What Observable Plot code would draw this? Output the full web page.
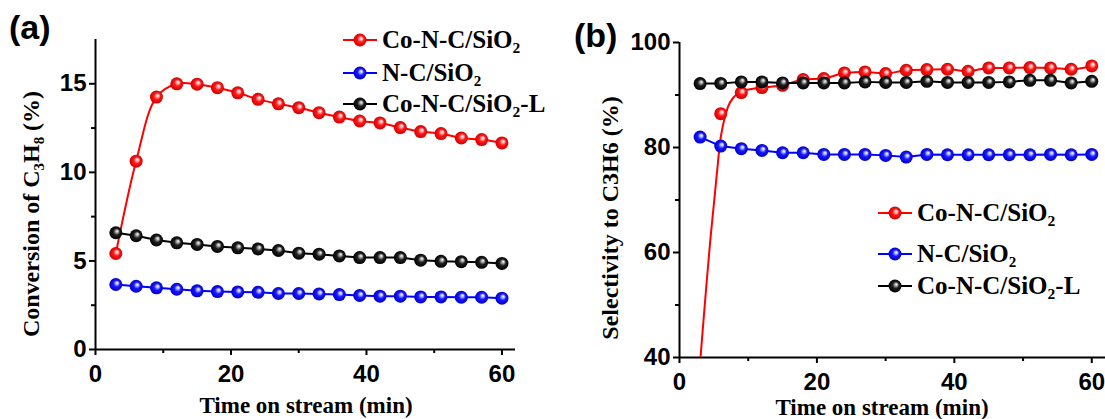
<!DOCTYPE html>
<html><head><meta charset="utf-8">
<script src="https://cdn.jsdelivr.net/npm/d3@7"></script>
<script src="https://cdn.jsdelivr.net/npm/@observablehq/plot@0.6"></script>
<style>
body{margin:0;background:#fff;}
#wrap{position:relative;width:1105px;height:419px;overflow:hidden;background:#fff;font-family:"Liberation Serif","Times New Roman",serif;color:#000;}
.panel{position:absolute;top:0;}
.lbl{position:absolute;font-family:"Liberation Sans",Arial,sans-serif;font-weight:bold;font-size:34px;line-height:1;}
.title{position:absolute;font-weight:bold;font-size:23px;white-space:nowrap;line-height:1;transform:translate(-50%,-50%);}
.ytitle{font-size:24px;transform:translate(-50%,-50%) rotate(-90deg);}
.row{position:absolute;display:flex;align-items:center;white-space:nowrap;font-weight:bold;font-size:25px;height:32px;}
.row svg{margin-right:5px;}
sub{font-size:0.62em;vertical-align:-0.35em;line-height:0;}
</style></head>
<body>
<svg width="0" height="0" style="position:absolute">
<defs>
<radialGradient id="gRed" cx="50%" cy="50%" r="50%" fx="62%" fy="36%">
<stop offset="0%" stop-color="#ffffff"/><stop offset="22%" stop-color="#ffb0b0"/><stop offset="50%" stop-color="#ff1818"/><stop offset="100%" stop-color="#d00000"/>
</radialGradient>
<radialGradient id="gBlue" cx="50%" cy="50%" r="50%" fx="62%" fy="36%">
<stop offset="0%" stop-color="#ffffff"/><stop offset="22%" stop-color="#b0b0ff"/><stop offset="50%" stop-color="#1818ff"/><stop offset="100%" stop-color="#0000c8"/>
</radialGradient>
<radialGradient id="gBlack" cx="50%" cy="50%" r="50%" fx="62%" fy="36%">
<stop offset="0%" stop-color="#ffffff"/><stop offset="22%" stop-color="#a8a8a8"/><stop offset="50%" stop-color="#202020"/><stop offset="100%" stop-color="#000000"/>
</radialGradient>
</defs>
</svg>
<div id="wrap"></div>
<script>
// ---- data ----
const time = [3, 6, 9, 12, 15, 18, 21, 24, 27, 30, 33, 36, 39, 42, 45, 48, 51, 54, 57, 60];
const seriesNames = ["Co-N-C/SiO2", "N-C/SiO2", "Co-N-C/SiO2-L"];

// (a) Conversion of C3H8 (%)
const convCoNC = [5.42, 10.63, 14.25, 15.0, 14.98, 14.78, 14.49, 14.12, 13.87, 13.65, 13.37, 13.12, 12.9, 12.79, 12.53, 12.3, 12.19, 11.94, 11.85, 11.66];
const convNC = [3.67, 3.57, 3.48, 3.40, 3.31, 3.27, 3.25, 3.23, 3.16, 3.16, 3.14, 3.10, 3.05, 3.01, 3.01, 2.97, 2.97, 2.95, 2.95, 2.90];
const convCoNCL = [6.59, 6.42, 6.18, 6.02, 5.93, 5.82, 5.74, 5.68, 5.59, 5.44, 5.38, 5.28, 5.19, 5.19, 5.19, 5.04, 4.98, 4.96, 4.92, 4.86];

// (b) Selectivity to C3H6 (%)  (Co-N-C/SiO2 point at 3 min lies below the axis)
const selTime = [6, 9, 12, 15, 18, 21, 24, 27, 30, 33, 36, 39, 42, 45, 48, 51, 54, 57, 60];
const selCoNC = [86.45, 90.46, 91.41, 91.85, 92.94, 93.13, 94.2, 94.39, 94.08, 94.71, 94.84, 94.9, 94.52, 95.16, 95.16, 95.22, 95.16, 94.9, 95.54];
const selNC = [81.98, 80.27, 79.77, 79.45, 79.0, 79.0, 78.68, 78.68, 78.68, 78.5, 78.17, 78.68, 78.62, 78.62, 78.62, 78.62, 78.62, 78.68, 78.62, 78.68];
const selCoNCL = [92.17, 92.2, 92.5, 92.5, 92.3, 92.3, 92.3, 92.3, 92.5, 92.4, 92.4, 92.6, 92.4, 92.4, 92.4, 92.5, 92.8, 92.8, 92.3, 92.6];
// smoothed line of Co-N-C/SiO2 in (b) for its early part
const selFitTime = [3.06, 4.62, 5.1, 5.58, 5.87, 6.37, 7.04, 7.9, 8.9, 11.9, 15];
const selFitVal = [40, 64.2, 70.5, 76.9, 80.7, 84.5, 87.7, 89.6, 90.6, 91.4, 91.85];

// ticks
const xMajor = [0, 20, 40, 60], xMinor = [10, 30, 50];
const yMajorA = [0, 5, 10, 15], yMinorA = [2.5, 7.5, 12.5];
const yMajorB = [40, 60, 80, 100], yMinorB = [50, 70, 90];

// ---- build ----
const colors = {"Co-N-C/SiO2": "red", "N-C/SiO2": "blue", "Co-N-C/SiO2-L": "black"};
const grads = {"Co-N-C/SiO2": "url(#gRed)", "N-C/SiO2": "url(#gBlue)", "Co-N-C/SiO2-L": "url(#gBlack)"};
const rows = (xs, ys) => xs.map((x, i) => ({x, y: ys[i]}));

const aSets = [[seriesNames[0], rows(time, convCoNC)], [seriesNames[1], rows(time, convNC)], [seriesNames[2], rows(time, convCoNCL)]];
const redFitB = rows(selFitTime, selFitVal).concat(rows(selTime, selCoNC).filter(d => d.x > 15));
const bSets = [[seriesNames[0], rows(selTime, selCoNC), redFitB], [seriesNames[1], rows(time, selNC)], [seriesNames[2], rows(time, selCoNCL)]];

const fontStyle = {fontFamily: '"Liberation Sans", Arial, sans-serif', fontSize: "24px", fontWeight: "bold", color: "#000", background: "transparent", overflow: "visible"};

function axes(yMajor, yMinor, yMin) {
  return [
    Plot.axisX({ticks: xMajor, tickSize: 6, tickPadding: 9, label: null, strokeWidth: 2}),
    Plot.axisX({ticks: xMinor, tickSize: 4, tickFormat: () => "", label: null, strokeWidth: 2}),
    Plot.axisY({ticks: yMajor, tickSize: 6, tickPadding: 3, label: null, strokeWidth: 2}),
    Plot.axisY({ticks: yMinor, tickSize: 4, tickFormat: () => "", label: null, strokeWidth: 2}),
    Plot.ruleX([0], {strokeWidth: 2}),
    Plot.ruleY([yMin], {strokeWidth: 2})
  ];
}

const left = Plot.plot({
  width: 540, height: 419, marginLeft: 95, marginRight: 25, marginTop: 39, marginBottom: 70,
  style: fontStyle,
  x: {domain: [0, 62], label: null},
  y: {domain: [0, 17.5], label: null},
  marks: [
    ...axes(yMajorA, yMinorA, 0),
    ...aSets.flatMap(([name, data]) => [
      Plot.line(data, {x: "x", y: "y", stroke: colors[name], strokeWidth: 2, curve: name === seriesNames[0] ? "catmull-rom" : "linear"}),
      Plot.dot(data, {x: "x", y: "y", r: 6.5, fill: grads[name], stroke: "none"})
    ])
  ]
});

const right = Plot.plot({
  width: 545, height: 419, marginLeft: 119, marginRight: 0, marginTop: 42, marginBottom: 62,
  style: fontStyle,
  x: {domain: [0, 62], label: null},
  y: {domain: [40, 100], label: null},
  marks: [
    ...axes(yMajorB, yMinorB, 40),
    ...bSets.flatMap(([name, data, lineData]) => [
      Plot.line(lineData || data, {x: "x", y: "y", stroke: colors[name], strokeWidth: 2, curve: lineData ? "monotone-x" : "linear", clip: true}),
      Plot.dot(data, {x: "x", y: "y", r: 6.5, fill: grads[name], stroke: "none"})
    ])
  ]
});

const wrap = document.getElementById("wrap");
left.classList.add("panel"); left.style.left = "0px";
right.classList.add("panel"); right.style.left = "560px";
wrap.append(left, right);

function addHTML(html) { wrap.insertAdjacentHTML("beforeend", html); }
addHTML('<div class="lbl" style="left:9px;top:10px">(a)</div>');
addHTML('<div class="lbl" style="left:574px;top:18px">(b)</div>');
addHTML('<div class="title" style="left:306px;top:405px">Time on stream (min)</div>');
addHTML('<div class="title" style="left:882px;top:407px">Time on stream (min)</div>');
addHTML('<div class="title ytitle" style="left:31px;top:214px">Conversion of C<sub>3</sub>H<sub>8</sub> (%)</div>');
addHTML('<div class="title ytitle" style="left:610px;top:218px">Selectivity to C3H6 (%)</div>');

const legendLabels = ["Co-N-C/SiO<sub>2</sub>", "N-C/SiO\u2082", "Co-N-C/SiO<sub>2</sub>-L"];
function legend(x, ys) {
  seriesNames.forEach((name, i) => {
    const sw = `<svg width="34" height="20"><line x1="0" x2="34" y1="10" y2="10" stroke="${colors[name]}" stroke-width="2"/><circle cx="17" cy="10" r="6.5" fill="${grads[name]}"/></svg>`;
    addHTML(`<div class="row" style="left:${x}px;top:${ys[i] - 16}px">${sw}<span>${legendLabels[i]}</span></div>`);
  });
}
legend(343, [40, 73, 104]);
legend(878, [213, 254, 286]);
</script>
</body></html>
